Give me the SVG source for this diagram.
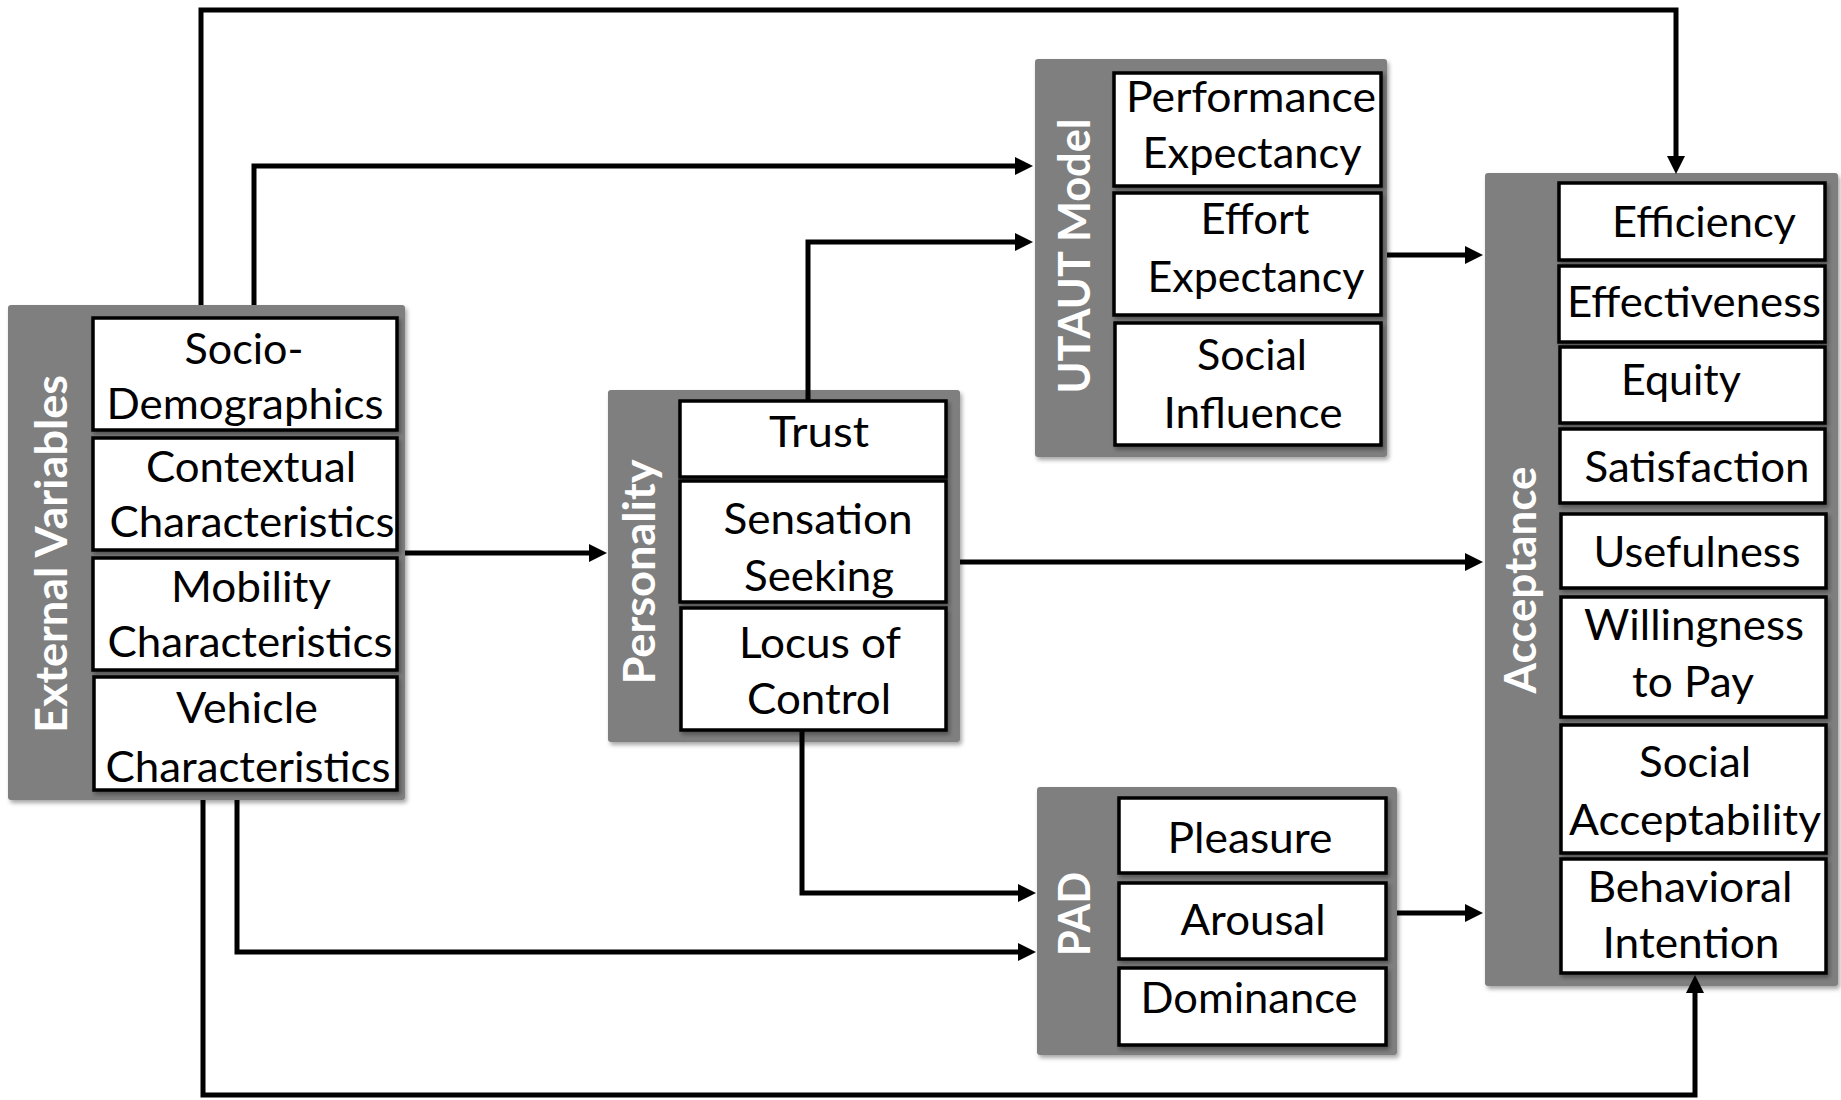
<svg xmlns="http://www.w3.org/2000/svg" width="1841" height="1100" viewBox="0 0 1841 1100">
<defs>
<style>
.panel{fill:#7f7f7f;filter:url(#sh)}
.box{fill:#fff;stroke:#000;stroke-width:3.5;filter:url(#sh)}
.t{font-family:Lato,"Open Sans","Liberation Sans",sans-serif;font-size:42px;fill:#000;text-anchor:middle}
.lbl{font-family:Lato,"Open Sans","Liberation Sans",sans-serif;font-size:44px;font-weight:bold;fill:#fff;text-anchor:middle}
.c{fill:none;stroke:#000;stroke-width:5;stroke-linejoin:miter;marker-end:url(#ah)}
</style>
<filter id="sh" x="-10%" y="-10%" width="120%" height="120%">
<feDropShadow dx="2" dy="3" stdDeviation="2" flood-color="#000" flood-opacity="0.35"/>
</filter>
<marker id="ah" viewBox="0 0 18 18" refX="10" refY="9" markerWidth="18" markerHeight="18" markerUnits="userSpaceOnUse" orient="auto">
<path d="M0,0 L18,9 L0,18 z" fill="#000"/>
</marker>
</defs>
<rect width="1841" height="1100" fill="#fff"/>

<g id="external-variables">
<rect class="panel" x="8" y="305" width="397" height="495" rx="3"/>
<text class="lbl" transform="translate(67,554) rotate(-90)" textLength="358" lengthAdjust="spacingAndGlyphs">External Variables</text>
<rect class="box" x="93" y="318" width="304" height="112"/>
<text class="t" x="244" y="364" textLength="119" lengthAdjust="spacingAndGlyphs">Socio-</text>
<text class="t" x="245" y="419" textLength="277" lengthAdjust="spacingAndGlyphs">Demographics</text>
<rect class="box" x="93" y="438" width="304" height="112"/>
<text class="t" x="251" y="482" textLength="210" lengthAdjust="spacingAndGlyphs">Contextual</text>
<text class="t" x="252" y="537" textLength="285" lengthAdjust="spacingAndGlyphs">Characteristics</text>
<rect class="box" x="93" y="558" width="304" height="112"/>
<text class="t" x="251" y="602" textLength="160" lengthAdjust="spacingAndGlyphs">Mobility</text>
<text class="t" x="250" y="657" textLength="285" lengthAdjust="spacingAndGlyphs">Characteristics</text>
<rect class="box" x="94" y="677" width="303" height="113"/>
<text class="t" x="247" y="723" textLength="142" lengthAdjust="spacingAndGlyphs">Vehicle</text>
<text class="t" x="248" y="782" textLength="285" lengthAdjust="spacingAndGlyphs">Characteristics</text>
</g>

<g id="personality">
<rect class="panel" x="608" y="390" width="352" height="352" rx="3"/>
<text class="lbl" transform="translate(655,572) rotate(-90)" textLength="225" lengthAdjust="spacingAndGlyphs">Personality</text>
<rect class="box" x="680" y="401" width="266" height="76"/>
<text class="t" x="819" y="447" textLength="100" lengthAdjust="spacingAndGlyphs">Trust</text>
<rect class="box" x="680" y="481" width="266" height="121"/>
<text class="t" x="818" y="534" textLength="189" lengthAdjust="spacingAndGlyphs">Sensation</text>
<text class="t" x="819" y="591" textLength="150" lengthAdjust="spacingAndGlyphs">Seeking</text>
<rect class="box" x="681" y="608" width="265" height="122"/>
<text class="t" x="820" y="658" textLength="162" lengthAdjust="spacingAndGlyphs">Locus of</text>
<text class="t" x="819" y="714" textLength="144" lengthAdjust="spacingAndGlyphs">Control</text>
</g>

<g id="utaut-model">
<rect class="panel" x="1035" y="59" width="352" height="398" rx="3"/>
<text class="lbl" transform="translate(1090,256) rotate(-90)" textLength="275" lengthAdjust="spacingAndGlyphs">UTAUT Model</text>
<rect class="box" x="1114" y="73" width="267" height="113"/>
<text class="t" x="1251" y="112" textLength="250" lengthAdjust="spacingAndGlyphs">Performance</text>
<text class="t" x="1252" y="168" textLength="219" lengthAdjust="spacingAndGlyphs">Expectancy</text>
<rect class="box" x="1114" y="193" width="267" height="122"/>
<text class="t" x="1255" y="234" textLength="109" lengthAdjust="spacingAndGlyphs">Effort</text>
<text class="t" x="1256" y="292" textLength="217" lengthAdjust="spacingAndGlyphs">Expectancy</text>
<rect class="box" x="1115" y="323" width="266" height="122"/>
<text class="t" x="1252" y="370" textLength="110" lengthAdjust="spacingAndGlyphs">Social</text>
<text class="t" x="1253" y="428" textLength="179" lengthAdjust="spacingAndGlyphs">Influence</text>
</g>

<g id="pad">
<rect class="panel" x="1037" y="787" width="360" height="268" rx="3"/>
<text class="lbl" transform="translate(1090,914) rotate(-90)" textLength="84" lengthAdjust="spacingAndGlyphs">PAD</text>
<rect class="box" x="1119" y="798" width="267" height="75"/>
<text class="t" x="1250" y="853" textLength="165" lengthAdjust="spacingAndGlyphs">Pleasure</text>
<rect class="box" x="1119" y="883" width="267" height="76"/>
<text class="t" x="1253" y="935" textLength="145" lengthAdjust="spacingAndGlyphs">Arousal</text>
<rect class="box" x="1119" y="968" width="267" height="77"/>
<text class="t" x="1249" y="1013" textLength="217" lengthAdjust="spacingAndGlyphs">Dominance</text>
</g>

<g id="acceptance">
<rect class="panel" x="1485" y="173" width="353" height="813" rx="3"/>
<text class="lbl" transform="translate(1536,580) rotate(-90)" textLength="227" lengthAdjust="spacingAndGlyphs">Acceptance</text>
<rect class="box" x="1559" y="183" width="266" height="77"/>
<text class="t" x="1704" y="237" textLength="184" lengthAdjust="spacingAndGlyphs">Efficiency</text>
<rect class="box" x="1559" y="266" width="266" height="76"/>
<text class="t" x="1694" y="317" textLength="254" lengthAdjust="spacingAndGlyphs">Effectiveness</text>
<rect class="box" x="1560" y="347" width="265" height="76"/>
<text class="t" x="1681" y="395" textLength="120" lengthAdjust="spacingAndGlyphs">Equity</text>
<rect class="box" x="1560" y="429" width="265" height="74"/>
<text class="t" x="1697" y="482" textLength="225" lengthAdjust="spacingAndGlyphs">Satisfaction</text>
<rect class="box" x="1561" y="514" width="265" height="74"/>
<text class="t" x="1697" y="567" textLength="207" lengthAdjust="spacingAndGlyphs">Usefulness</text>
<rect class="box" x="1561" y="597" width="265" height="120"/>
<text class="t" x="1694" y="640" textLength="220" lengthAdjust="spacingAndGlyphs">Willingness</text>
<text class="t" x="1693" y="697" textLength="122" lengthAdjust="spacingAndGlyphs">to Pay</text>
<rect class="box" x="1561" y="725" width="265" height="128"/>
<text class="t" x="1695" y="777" textLength="112" lengthAdjust="spacingAndGlyphs">Social</text>
<text class="t" x="1695" y="835" textLength="252" lengthAdjust="spacingAndGlyphs">Acceptability</text>
<rect class="box" x="1561" y="859" width="265" height="114"/>
<text class="t" x="1690" y="902" textLength="205" lengthAdjust="spacingAndGlyphs">Behavioral</text>
<text class="t" x="1691" y="958" textLength="177" lengthAdjust="spacingAndGlyphs">Intention</text>
</g>

<g id="connectors">
<path class="c" d="M201,305 V10 H1676 V166"/>
<path class="c" d="M254,305 V166 H1025"/>
<path class="c" d="M405,553 H599"/>
<path class="c" d="M203,800 V1095 H1695 V983"/>
<path class="c" d="M237,800 V952 H1028"/>
<path class="c" d="M808,401 V242 H1025"/>
<path class="c" d="M960,562 H1475"/>
<path class="c" d="M802,730 V893 H1028"/>
<path class="c" d="M1387,255 H1475"/>
<path class="c" d="M1397,913 H1475"/>
</g>
</svg>
